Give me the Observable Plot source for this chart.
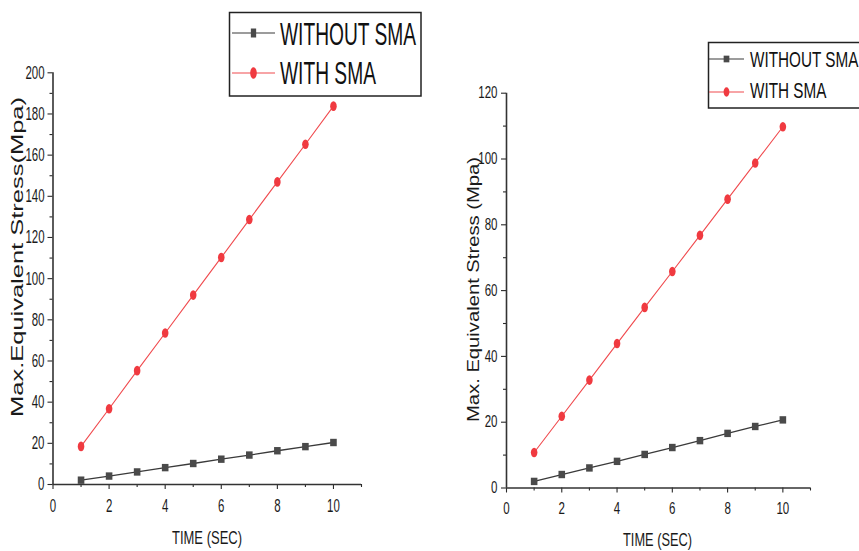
<!DOCTYPE html>
<html><head><meta charset="utf-8">
<script src="https://cdn.jsdelivr.net/npm/d3@7"></script>
<script src="https://cdn.jsdelivr.net/npm/@observablehq/plot@0.6"></script>
<style>
body{margin:0;background:#fff;}
#wrap{position:relative;width:859px;height:551px;overflow:hidden;background:#fff;}
#wrap svg{position:absolute;top:0;}
</style></head><body><div id="wrap"></div>
<script>
// ---- data ----
const time = [1, 2, 3, 4, 5, 6, 7, 8, 9, 10];
const seriesNames = ["WITHOUT SMA", "WITH SMA"];
const leftWithout = [2.1, 4.1, 6.1, 8.2, 10.2, 12.3, 14.3, 16.4, 18.4, 20.4];
const leftWith = [18.5, 36.8, 55.3, 73.6, 92.0, 110.3, 128.7, 147.0, 165.3, 183.8];
const rightWithout = [2.0, 4.1, 6.1, 8.1, 10.2, 12.3, 14.4, 16.6, 18.7, 20.7];
const rightWith = [10.8, 21.8, 32.8, 43.9, 54.9, 65.8, 76.8, 87.8, 98.8, 109.8];
const xTicks = [0, 2, 4, 6, 8, 10];
const xMinorTicks = [1, 3, 5, 7, 9, 11];
const leftYTicks = [0, 20, 40, 60, 80, 100, 120, 140, 160, 180, 200];
const leftYMinor = [10, 30, 50, 70, 90, 110, 130, 150, 170, 190];
const rightYTicks = [0, 20, 40, 60, 80, 100, 120];
const rightYMinor = [10, 30, 50, 70, 90, 110];
const xLabel = "TIME (SEC)";
const leftYLabel = "Max.Equivalent Stress(Mpa)";
const rightYLabel = "Max. Equivalent Stress (Mpa)";

const GREY = "#4a4a4a", GREY_LINE = "#3a3a3a", RED = "#f03a40", RED_LINE = "#f04a4e";
const FONT = "'Liberation Sans', Arial, sans-serif";

function rectSym(w, h) { return {draw(c) { c.rect(-w / 2, -h / 2, w, h); }}; }
function ellipseSym(rx, ry) {
  return {draw(c) {
    const k = 0.5523;
    c.moveTo(rx, 0);
    c.bezierCurveTo(rx, ry * k, rx * k, ry, 0, ry);
    c.bezierCurveTo(-rx * k, ry, -rx, ry * k, -rx, 0);
    c.bezierCurveTo(-rx, -ry * k, -rx * k, -ry, 0, -ry);
    c.bezierCurveTo(rx * k, -ry, rx, -ry * k, rx, 0);
    c.closePath();
  }};
}

// horizontally condense tick labels around their own anchor point (svg must be in the DOM)
function condense(svg, sx) {
  svg.querySelectorAll('[aria-label*="tick label"] text').forEach(el => {
    if (!el.textContent) return;
    const b = el.getBBox();
    const anchor = getComputedStyle(el).textAnchor || "start";
    const ax = anchor === "end" ? b.x + b.width : anchor === "middle" ? b.x + b.width / 2 : b.x;
    const tr = el.getAttribute("transform") || "";
    el.setAttribute("transform", `${tr} translate(${ax},0) scale(${sx},1) translate(${-ax},0)`);
  });
}

const wrap = document.getElementById("wrap");

function chart(o) {
  const data = time.map((t, i) => ({t, without: o.without[i], with: o.with[i]}));
  const svg = Plot.plot({
    width: o.width, height: 551,
    marginLeft: o.ml, marginRight: o.mr, marginTop: o.mt, marginBottom: o.mb,
    style: {fontFamily: FONT, fontSize: o.fs + "px", color: "#2a2a2a", background: "transparent", overflow: "visible"},
    x: {domain: [0, 11], label: null},
    y: {domain: [0, o.yMax], label: null},
    marks: [
      Plot.axisX({ticks: xTicks, tickSize: 5, tickPadding: o.xPad, label: null, strokeWidth: 1.1, fontSize: o.fs, fill: "#1a1a1a"}),
      Plot.axisX({ticks: xMinorTicks, tickSize: 3, tickFormat: () => "", label: null, strokeWidth: 1.1}),
      Plot.axisY({ticks: o.yTicks, tickSize: 5, tickPadding: o.yPad, label: null, strokeWidth: 1.1, fontSize: o.fs, fill: "#1a1a1a"}),
      Plot.axisY({ticks: o.yMinor, tickSize: 3, tickFormat: () => "", label: null, strokeWidth: 1.1}),
      Plot.ruleX([0], {stroke: "#333", strokeWidth: 1.6}),
      Plot.ruleY([0], {stroke: "#333", strokeWidth: 1.6}),
      Plot.line(data, {x: "t", y: "without", stroke: GREY_LINE, strokeWidth: 1.3}),
      Plot.line(data, {x: "t", y: "with", stroke: RED_LINE, strokeWidth: 1.1}),
      Plot.dot(data, {x: "t", y: "without", symbol: rectSym(6.6, 7.4), fill: GREY, stroke: "none"}),
      Plot.dot(data, {x: "t", y: "with", symbol: ellipseSym(3.3, 4.8), fill: RED, stroke: "none"})
    ]
  });
  svg.style.left = o.left + "px";
  wrap.appendChild(svg);
  condense(svg, o.sx);
  return svg;
}

chart({without: leftWithout, with: leftWith, yMax: 200, yTicks: leftYTicks, yMinor: leftYMinor,
  width: 430, left: 0, ml: 52.5, mr: 69, mt: 72.3, mb: 67, fs: 18.5, sx: 0.62, xPad: 9, yPad: 3.5});
chart({without: rightWithout, with: rightWith, yMax: 120, yTicks: rightYTicks, yMinor: rightYMinor,
  width: 429, left: 430, ml: 76, mr: 49, mt: 92.7, mb: 63.5, fs: 16.5, sx: 0.7, xPad: 9, yPad: 4});

// ---- overlay: axis titles and legends ----
const ov = d3.select(wrap).append("svg").attr("width", 859).attr("height", 551)
  .style("left", "0px").style("font-family", FONT).style("pointer-events", "none");

function ylab(txt, x, y, fs, len) {
  ov.append("text").attr("transform", `translate(${x},${y}) rotate(-90)`)
    .attr("text-anchor", "middle").attr("font-size", fs).attr("fill", "#1a1a1a")
    .attr("textLength", len).attr("lengthAdjust", "spacingAndGlyphs").text(txt);
}
function xlab(txt, x, y, fs, len) {
  ov.append("text").attr("x", x).attr("y", y).attr("text-anchor", "middle")
    .attr("font-size", fs).attr("fill", "#1a1a1a")
    .attr("textLength", len).attr("lengthAdjust", "spacingAndGlyphs").text(txt);
}
ylab(leftYLabel, 22.5, 257, 17, 320);
ylab(rightYLabel, 478.5, 289.5, 17, 265);
xlab(xLabel, 207, 543.5, 19, 70);
xlab(xLabel, 657.5, 545.5, 19, 69);

function legend(o) {
  const g = ov.append("g");
  g.append("rect").attr("x", o.x).attr("y", o.y).attr("width", o.w).attr("height", o.h)
    .attr("fill", "none").attr("stroke", "#222").attr("stroke-width", 1.5);
  const rows = [
    {name: seriesNames[0], line: GREY_LINE, sym: rectSym(o.sq[0], o.sq[1]), fill: GREY},
    {name: seriesNames[1], line: RED_LINE, sym: ellipseSym(o.el[0], o.el[1]), fill: RED}
  ];
  rows.forEach((r, i) => {
    const ly = o.lineY[i];
    g.append("line").attr("x1", o.lx1).attr("x2", o.lx2).attr("y1", ly).attr("y2", ly)
      .attr("stroke", r.line).attr("stroke-width", 1.2);
    g.append("path").attr("transform", `translate(${(o.lx1 + o.lx2) / 2},${ly})`)
      .attr("d", d3.symbol(r.sym)()).attr("fill", r.fill);
    g.append("text").attr("transform", `translate(${o.tx},${o.base[i]}) scale(${o.sx},1)`)
      .attr("font-size", o.fs).attr("fill", "#111").text(r.name);
  });
}
legend({x: 229.5, y: 12.5, w: 191.5, h: 83.5, lx1: 232, lx2: 275, lineY: [33, 73], base: [45, 84],
  tx: 280, fs: 32, sx: 0.6, sq: [5.3, 9], el: [3.3, 5.8]});
legend({x: 708.5, y: 42.5, w: 170, h: 65.5, lx1: 709, lx2: 744, lineY: [59, 92], base: [67, 98],
  tx: 750, fs: 22.5, sx: 0.68, sq: [5.7, 6.7], el: [2.9, 4.7]});
</script></body></html>
